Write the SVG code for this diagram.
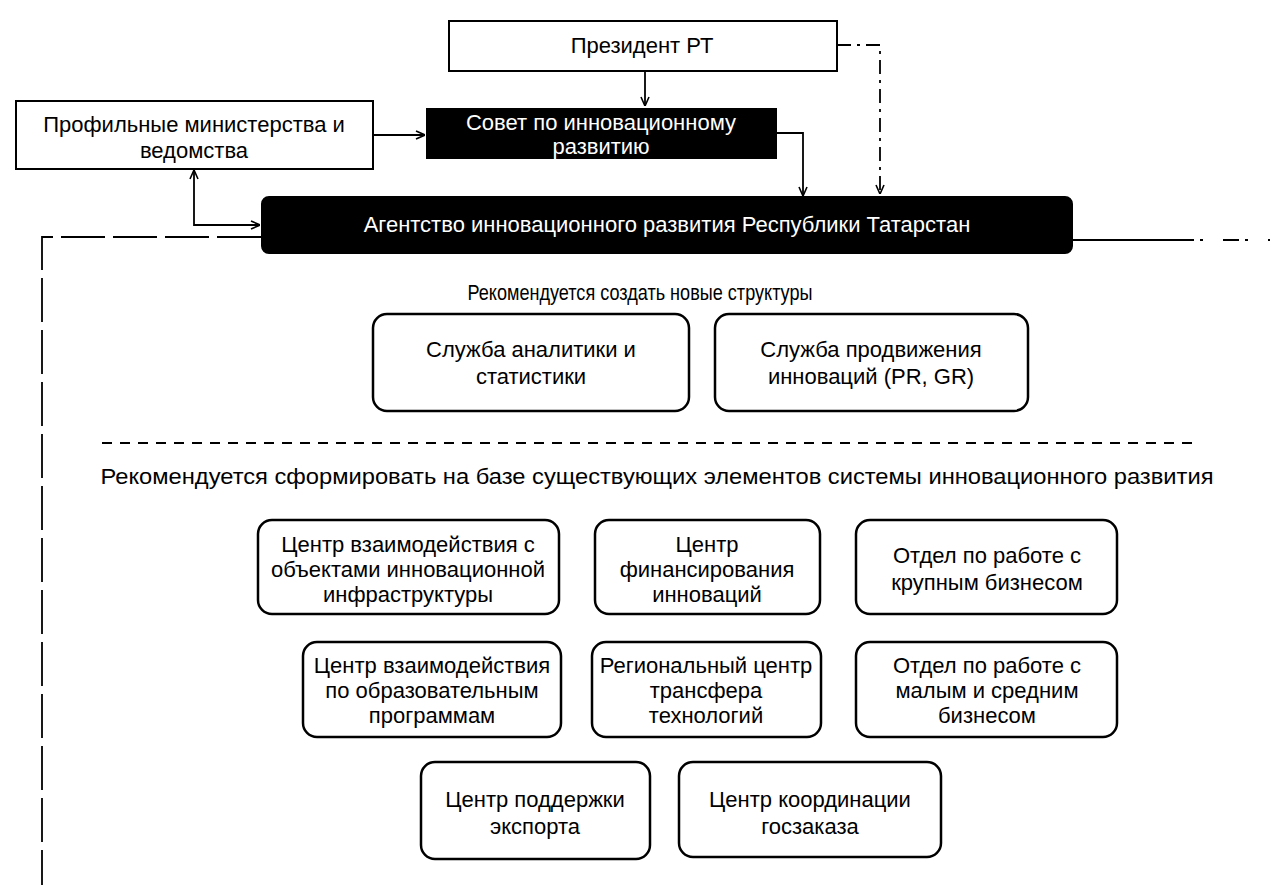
<svg xmlns="http://www.w3.org/2000/svg" width="1278" height="885" viewBox="0 0 1278 885">
<style>
text{font-family:"Liberation Sans",Arial,sans-serif;font-size:22px;fill:#000;text-anchor:middle}
.w{fill:#fff}
.box{fill:#fff;stroke:#000;stroke-width:2}
.dark{fill:#000;stroke:#000;stroke-width:2}
.rbox{fill:#fff;stroke:#000;stroke-width:2.5}
.c{fill:none;stroke:#000;stroke-width:1.8}
.dash{stroke-dasharray:14 6 3 6}
.ldash{stroke-dasharray:44 8}
.sep{fill:none;stroke:#000;stroke-width:2;stroke-dasharray:10 8}
</style>
<defs>
<marker id="a" viewBox="0 0 10 10" refX="10" refY="5" markerWidth="10" markerHeight="10" markerUnits="userSpaceOnUse" orient="auto-start-reverse">
<polyline points="1,1 10,5 1,9" fill="none" stroke="#000" stroke-width="1.6"/>
</marker>
</defs>
<rect width="1278" height="885" fill="#fff"/>

<g id="connectors">
<line class="c" x1="645" y1="71" x2="645" y2="106" marker-end="url(#a)"/>
<polyline class="c dash" points="837,45 880,45 880,194" marker-end="url(#a)"/>
<polyline class="c" points="777,133 803,133 803,196" marker-end="url(#a)"/>
<line class="c" x1="374" y1="135" x2="425" y2="135" marker-end="url(#a)"/>
<polyline class="c" points="194,170 194,225 260,225" marker-start="url(#a)" marker-end="url(#a)"/>
<polyline class="c ldash" points="261,237 42,237 42,885"/>
<line class="c" x1="1072" y1="240" x2="1178" y2="240"/>
<line class="c" x1="1178" y1="240" x2="1270" y2="240" stroke-dasharray="16 6 3 20"/>
</g>

<g id="president">
<rect class="box" x="449" y="21" width="388" height="50"/>
<text x="642" y="53">Президент РТ</text>
</g>
<g id="ministries">
<rect class="box" x="16" y="101" width="357" height="68"/>
<text x="194" y="132">Профильные министерства и</text>
<text x="194" y="158">ведомства</text>
</g>
<g id="council">
<rect class="dark" x="427" y="109" width="349" height="49"/>
<text class="w" x="601" y="130">Совет по инновационному</text>
<text class="w" x="601" y="154">развитию</text>
</g>
<g id="agency">
<rect class="dark" x="262" y="197" width="810" height="56" rx="7"/>
<text class="w" x="667" y="232">Агентство инновационного развития Республики Татарстан</text>
</g>

<g id="heading1">
<text x="640" y="300" font-size="19" textLength="345" lengthAdjust="spacingAndGlyphs">Рекомендуется создать новые структуры</text>
</g>
<g id="n-analytics">
<rect class="rbox" x="373" y="314" width="316" height="97" rx="14"/>
<text x="531" y="357">Служба аналитики и</text>
<text x="531" y="384">статистики</text>
</g>
<g id="n-promotion">
<rect class="rbox" x="715" y="314" width="313" height="97" rx="14"/>
<text x="871" y="357">Служба продвижения</text>
<text x="871" y="384">инноваций (PR, GR)</text>
</g>

<g id="separator">
<line class="sep" x1="102" y1="443" x2="1200" y2="443"/>
</g>
<g id="heading2">
<text x="657" y="484" font-size="21" textLength="1113" lengthAdjust="spacingAndGlyphs">Рекомендуется сформировать на базе существующих элементов системы инновационного развития</text>
</g>

<g id="n-infra">
<rect class="rbox" x="258" y="520" width="301" height="94" rx="14"/>
<text x="408" y="552">Центр взаимодействия с</text>
<text x="408" y="577">объектами инновационной</text>
<text x="408" y="602">инфраструктуры</text>
</g>
<g id="n-finance">
<rect class="rbox" x="595" y="520" width="225" height="94" rx="14"/>
<text x="707" y="552">Центр</text>
<text x="707" y="577">финансирования</text>
<text x="707" y="602">инноваций</text>
</g>
<g id="n-large">
<rect class="rbox" x="856" y="520" width="261" height="94" rx="14"/>
<text x="987" y="563">Отдел по работе с</text>
<text x="987" y="590">крупным бизнесом</text>
</g>

<g id="n-edu">
<rect class="rbox" x="303" y="642" width="258" height="95" rx="14"/>
<text x="432" y="673">Центр взаимодействия</text>
<text x="432" y="698">по образовательным</text>
<text x="432" y="723">программам</text>
</g>
<g id="n-transfer">
<rect class="rbox" x="592" y="642" width="229" height="95" rx="14"/>
<text x="706" y="673">Региональный центр</text>
<text x="706" y="698">трансфера</text>
<text x="706" y="723">технологий</text>
</g>
<g id="n-sme">
<rect class="rbox" x="856" y="642" width="261" height="95" rx="14"/>
<text x="987" y="673">Отдел по работе с</text>
<text x="987" y="698">малым и средним</text>
<text x="987" y="723">бизнесом</text>
</g>

<g id="n-export">
<rect class="rbox" x="421" y="762" width="229" height="97" rx="14"/>
<text x="535" y="807">Центр поддержки</text>
<text x="535" y="834">экспорта</text>
</g>
<g id="n-procurement">
<rect class="rbox" x="679" y="762" width="262" height="95" rx="14"/>
<text x="810" y="807">Центр координации</text>
<text x="810" y="834">госзаказа</text>
</g>
</svg>
